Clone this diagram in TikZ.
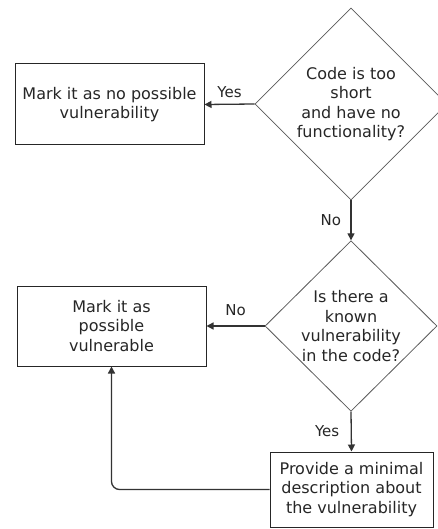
\documentclass[tikz,border=0pt]{standalone}
\usepackage{fontspec}
\setmainfont{DejaVu Sans}
\usetikzlibrary{shapes.geometric,arrows.meta}

\begin{document}
\begin{tikzpicture}[x=1pt,y=-1pt]
	\tikzstyle{decision}=[diamond, draw=black!65, line width=0.8pt, align=center, inner sep=0pt, text=black!85, font=\fontsize{16}{19.5}\selectfont]
	\tikzstyle{block}=[rectangle, draw=black!85, line width=1pt, align=center, text=black!85, font=\fontsize{16}{19.5}\selectfont]
	\tikzstyle{line}=[draw=black!80, line width=1.3pt, -{Triangle[length=7pt,width=7pt]}]
	\tikzstyle{answer}=[text=black!85, font=\fontsize{15}{18}\selectfont]
	\useasboundingbox (0,0) rectangle (438,529);
	% decisions
	\node[decision, minimum width=192pt, minimum height=192pt] (short) at (351,104)
		{Code is too\\short\\and have no\\functionality?};
	\node[decision, minimum width=172pt, minimum height=168pt] (known) at (351,326)
		{Is there a\\known\\vulnerability\\in the code?};
	% outcomes
	\node[block, minimum width=189pt, minimum height=81pt] (nopossible) at (109.5,104.5)
		{Mark it as no possible\\vulnerability};
	\node[block, minimum width=189pt, minimum height=80pt] (possible) at (111.5,326)
		{Mark it as\\possible\\vulnerable};
	\node[block, minimum width=163pt, minimum height=75pt] (describe) at (351.5,489.5)
		{Provide a minimal\\description about\\the vulnerability};
	% connectors
	\draw[line] (short.west) -- node[answer, above=3pt] {Yes} (nopossible.east);
	\draw[line] (short.south) -- node[answer, left=6pt] {No} (known.north);
	\draw[line] (known.west) -- node[answer, above=6pt] {No} (possible.east);
	\draw[line] (known.south) -- node[answer, left=8pt] {Yes} (describe.north);
	\draw[line, rounded corners=8pt] (describe.west) -| (possible.south);
\end{tikzpicture}
\end{document}
